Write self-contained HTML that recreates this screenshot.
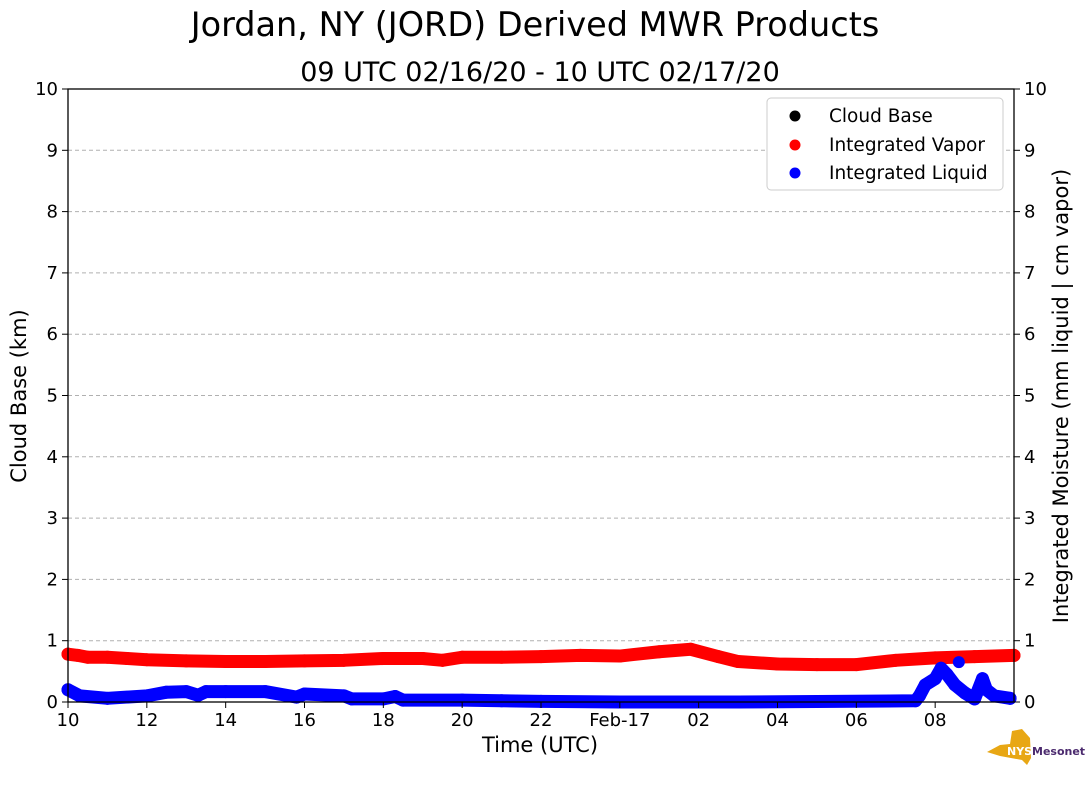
<!DOCTYPE html>
<html><head><meta charset="utf-8"><style>
body{margin:0;background:#fff;width:1089px;height:804px;overflow:hidden;font-family:"Liberation Sans","DejaVu Sans",sans-serif}
svg text{font-family:"DejaVu Sans","Liberation Sans",sans-serif}
</style></head><body>
<svg id="c" width="1089" height="804">
<text x="535" y="36" text-anchor="middle" font-size="33.5">Jordan, NY (JORD) Derived MWR Products</text>
<text x="540" y="81" text-anchor="middle" font-size="27">09 UTC 02/16/20 - 10 UTC 02/17/20</text>
<g id="grid"></g><g id="series"></g><g id="axes"></g>
<text x="540" y="752" text-anchor="middle" font-size="21">Time (UTC)</text>
<text transform="translate(26,396) rotate(-90)" text-anchor="middle" font-size="21">Cloud Base (km)</text>
<text transform="translate(1068,396) rotate(-90)" text-anchor="middle" font-size="21">Integrated Moisture (mm liquid | cm vapor)</text>
<g>
<rect x="767" y="98" width="236" height="92" rx="4" fill="#fff" stroke="#ccc"/>
<circle cx="795" cy="116" r="5.5" fill="#000"/><text x="829" y="122" font-size="18.5">Cloud Base</text>
<circle cx="795" cy="145" r="5.5" fill="red"/><text x="829" y="151" font-size="18.5">Integrated Vapor</text>
<circle cx="795" cy="173" r="5.5" fill="blue"/><text x="829" y="179" font-size="18.5">Integrated Liquid</text>
</g>
<g>
<path d="M987 752 L1000 745 L1010 744 L1012 731 L1022 729 L1030 738 L1031 758 L1027 765 L1022 760 L1000 756 Z" fill="#e8a714"/>
<text x="1007" y="755" font-size="11" font-weight="bold" fill="#fff">NYS</text>
<text x="1032" y="755" font-size="11" font-weight="bold" fill="#4b2a6e">Mesonet</text>
</g>
</svg>
<script>
const vaporT=[0,0.25,0.5,1,1.5,2,3,4,5,6,7,8,9,9.5,10,11,12,13,14,15,15.8,16.5,17,18,19,20,21,22,23,24];
const vaporV=[0.78,0.76,0.73,0.73,0.71,0.69,0.67,0.66,0.66,0.67,0.68,0.71,0.71,0.68,0.73,0.73,0.74,0.76,0.75,0.82,0.86,0.74,0.66,0.62,0.61,0.61,0.68,0.72,0.74,0.76];
const liqT=[0,0.3,1,2,2.5,3,3.3,3.5,4,5,5.8,6,7,7.2,8,8.3,8.5,10,11,12,14,17,21.5,21.6,21.75,22,22.15,22.3,22.5,22.75,23,23.2,23.3,23.5,23.9];
const liqV=[0.2,0.1,0.06,0.1,0.16,0.17,0.11,0.17,0.17,0.17,0.08,0.13,0.1,0.05,0.05,0.09,0.03,0.03,0.02,0.01,0,0,0.02,0.1,0.28,0.38,0.55,0.45,0.28,0.15,0.05,0.38,0.2,0.1,0.06];
const outT=[22.6], outV=[0.65];
const yTicks=[0,1,2,3,4,5,6,7,8,9,10];
const xTickH=[0,2,4,6,8,10,12,14,16,18,20,22];
const xTickL=['10','12','14','16','18','20','22','Feb-17','02','04','06','08'];
const X0=68,X1=1014,Y0=702,Y1=89;
const sx=h=>X0+h*(X1-X0)/24, sy=v=>Y0-v*(Y0-Y1)/10;
const NS='http://www.w3.org/2000/svg';
function mk(t,a,p){const e=document.createElementNS(NS,t);for(const k in a)e.setAttribute(k,a[k]);p.appendChild(e);return e;}
const grid=document.getElementById('grid'),axes=document.getElementById('axes'),ser=document.getElementById('series');
yTicks.forEach(v=>{
 if(v>0&&v<10){const g=mk('line',{x1:X0,x2:X1,y1:sy(v),y2:sy(v),stroke:'#b0b0b0','stroke-dasharray':'4,3'},grid);
 
 }
 [[X0,-6,'end',-10],[X1,6,'start',10]].forEach(([x,d,an,o])=>{
  mk('line',{x1:x,x2:x+d,y1:sy(v),y2:sy(v),stroke:'#000'},axes);
  const t=mk('text',{x:x+o,y:sy(v)+6,'text-anchor':an,'font-size':18},axes);t.textContent=v;
  
  
 });
});
xTickH.forEach((h,i)=>{
 mk('line',{x1:sx(h),x2:sx(h),y1:Y0,y2:Y0+6,stroke:'#000'},axes);
 const t=mk('text',{x:sx(h),y:Y0+24,'text-anchor':'middle','font-size':18},axes);t.textContent=xTickL[i];
 
 
});
const fr=mk('rect',{x:X0,y:Y1,width:X1-X0,height:Y0-Y1,fill:'none',stroke:'#000','stroke-width':1.3},axes);


function series(T,V,col,name){
 const p=mk('polyline',{points:T.map((t,i)=>sx(t)+','+sy(V[i])).join(' '),fill:'none',stroke:col,'stroke-width':13,'stroke-linejoin':'round','stroke-linecap':'round'},ser);
 
 
 T.forEach((t,i)=>{const c=mk('circle',{cx:sx(t),cy:sy(V[i]),r:6.5,fill:col},ser);
 
 });
}
series(vaporT,vaporV,'red','vapor');
series(liqT,liqV,'blue','liquid');
outT.forEach((t,i)=>{const c=mk('circle',{cx:sx(t),cy:sy(outV[i]),r:6,fill:'blue'},ser);
 
 });
</script>
</body></html>
